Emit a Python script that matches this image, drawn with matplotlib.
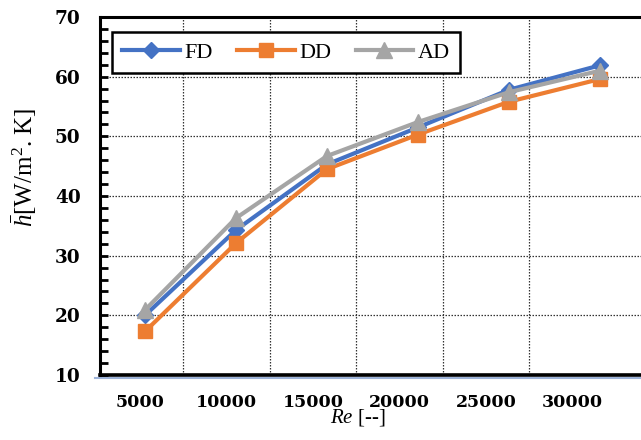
import matplotlib
matplotlib.use("Agg")
import matplotlib.pyplot as plt
from matplotlib.ticker import MultipleLocator

# ---- data ----
re_values = [5000, 10000, 15000, 20000, 25000, 30000]
tick_labels = ["5000", "10000", "15000", "20000", "25000", "30000"]
fd = [20.0, 34.3, 45.3, 51.5, 57.8, 61.9]
dd = [17.3, 32.1, 44.5, 50.3, 55.8, 59.6]
ad = [20.9, 36.3, 46.7, 52.4, 57.4, 61.0]
series_names = ["FD", "DD", "AD"]

plt.rcParams['font.family'] = ['Liberation Serif', 'DejaVu Serif']
plt.rcParams['mathtext.fontset'] = 'custom'
plt.rcParams['mathtext.rm'] = 'Liberation Serif'
plt.rcParams['mathtext.it'] = 'Liberation Serif:italic'

W, H = 641, 440
fig = plt.figure(figsize=(W / 100, H / 100), dpi=100)
ax = fig.add_axes([100 / W, 65 / H, 541 / W, 358 / H])

# primary axis: tick labels & grid
ax.set_xlim(2688, 33960)
ax.set_ylim(10, 70)
ax.set_xticks(re_values)
ax.set_xticklabels(tick_labels, fontsize=12.5, fontweight='bold', family='DejaVu Serif')
mids = [(a + b) / 2 for a, b in zip(re_values[:-1], re_values[1:])]
ax.set_xticks(mids, minor=True)
ax.yaxis.set_major_locator(MultipleLocator(10))
ax.yaxis.set_minor_locator(MultipleLocator(2))
for lbl in ax.get_yticklabels():
    lbl.set_fontweight('bold')
    lbl.set_fontsize(13.3)
    lbl.set_family('DejaVu Serif')
ax.tick_params(axis='x', which='both', length=0, pad=14)
ax.tick_params(axis='y', which='major', direction='in', length=6, width=2, pad=14)
ax.tick_params(axis='y', which='minor', direction='in', length=6, width=2)
ax.grid(True, axis='y', which='major', linestyle=(0, (1.2, 1.2)), color='#333333', linewidth=0.9)
ax.grid(True, axis='x', which='minor', linestyle=(0, (1.2, 1.2)), color='#333333', linewidth=0.9)
ax.grid(False, axis='x', which='major')
for s in ['left', 'top']:
    ax.spines[s].set_linewidth(2.2)
ax.spines['bottom'].set_linewidth(2.6)
ax.spines['right'].set_visible(False)
# light blue shadow under the bottom axis line
ax.plot([-0.01, 1], [-0.008, -0.008], transform=ax.transAxes, color='#9db3d9',
        linewidth=1.5, clip_on=False, zorder=0)

ax.set_xlabel(r"$\it{Re}$ [--]", fontsize=15, fontweight='normal')
ax.xaxis.set_label_coords((358 - 100) / 541, -0.09)
ax.set_ylabel(r"$\bar{h}$[W/m$^{2}$. K]", fontsize=18)
ax.yaxis.set_label_coords(-0.113, (375 - 167) / 358)

# data axis
ax2 = ax.twiny()
ax2.set_xlim(2527, 32253)
ax2.set_ylim(10, 70)
ax2.set_xticks([])
for s in ax2.spines.values():
    s.set_visible(False)

colors = ['#4472C4', '#ED7D31', '#A5A5A5']
markers = ['D', 's', '^']
msizes = [8, 10, 11]
for name, vals, c, m, ms in zip(series_names, [fd, dd, ad], colors, markers, msizes):
    ax2.plot(re_values, vals, color=c, marker=m, markersize=ms, linewidth=3,
             label=name, clip_on=False)

leg = ax2.legend(loc='upper left', bbox_to_anchor=(0.022, 0.958), ncol=3,
                 fontsize=16, frameon=True, fancybox=False, handlelength=2.6,
                 columnspacing=1.1, handletextpad=0.2, borderpad=0.45,
                 borderaxespad=0)
leg.get_frame().set_edgecolor('black')
leg.get_frame().set_linewidth(1.8)
leg.get_frame().set_alpha(1)

fig.savefig("out.png", dpi=100)
